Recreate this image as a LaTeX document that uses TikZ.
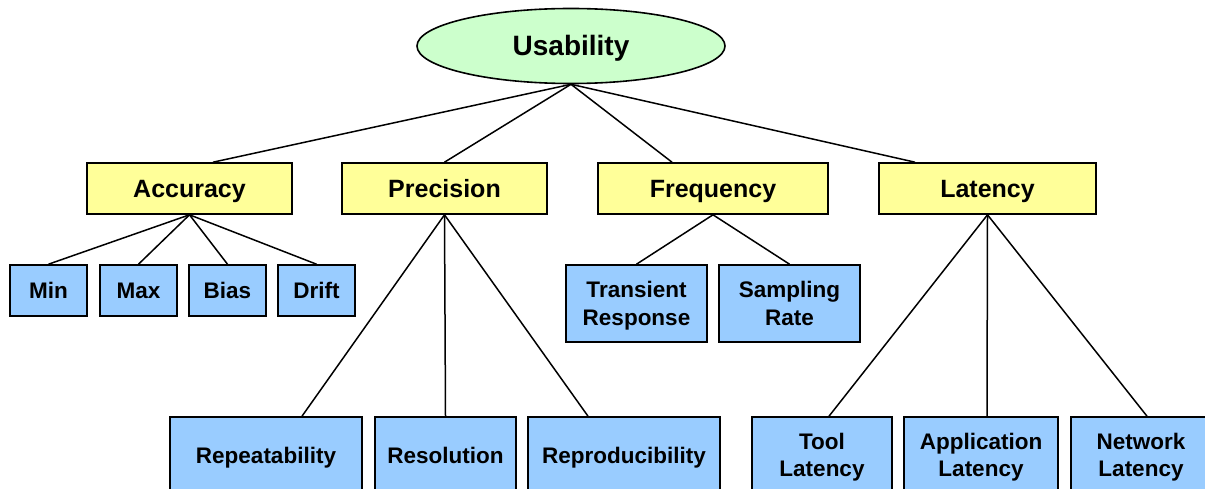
\documentclass[tikz,border=0pt]{standalone}
\usepackage{fontspec}
\setmainfont{Liberation Sans}
\usetikzlibrary{shapes.geometric}
\definecolor{rootfill}{HTML}{CCFFCC}
\definecolor{midfill}{HTML}{FFFF99}
\definecolor{leaffill}{HTML}{99CCFF}
% one text line of a two-line leaf, its caps centred on the line box
\newcommand\lline{\rule[-5.9pt]{0pt}{27.5pt}}
\tikzset{
  rootnode/.style={ellipse, draw=black, line width=1.6pt, fill=rootfill,
    minimum width=308pt, minimum height=75pt, inner sep=0pt,
    text height=20pt, text depth=0pt,
    font=\fontsize{28}{32}\selectfont\bfseries},
  midnode/.style={rectangle, draw=black, line width=1.6pt, fill=midfill,
    minimum height=51pt, inner sep=0pt,
    text height=18pt, text depth=0pt,
    font=\fontsize{25}{28}\selectfont\bfseries},
  leafbox/.style={rectangle, draw=black, line width=1.6pt, fill=leaffill,
    inner sep=0pt, align=center,
    font=\fontsize{22.5}{27.5}\selectfont\bfseries},
  leafnode/.style={leafbox, text height=16pt, text depth=0pt},
  link/.style={draw=black, line width=1.5pt}
}
\begin{document}
\begin{tikzpicture}[x=1pt,y=-1pt]
\useasboundingbox (0,0) rectangle (1205,489);
\begin{scope}
\clip (0,0) rectangle (1205,489);

% root
\node[rootnode] (usab) at (571,46) {Usability};

% second level
\node[midnode, minimum width=205pt] (acc) at (189.5,188.5) {Accuracy};
\node[midnode, minimum width=205pt] (pre) at (444.5,188.5) {Precision};
\node[midnode, minimum width=230pt] (fre) at (713,188.5) {Frequency};
\node[midnode, minimum width=217pt] (lat) at (987.5,188.5) {Latency};

% accuracy leaves
\node[leafnode, minimum width=77pt, minimum height=51pt] (min) at (48.5,290.5) {Min};
\node[leafnode, minimum width=77pt, minimum height=51pt] (max) at (138.5,290.5) {Max};
\node[leafnode, minimum width=77pt, minimum height=51pt] (bias) at (227.5,290.5) {Bias};
\node[leafnode, minimum width=77pt, minimum height=51pt] (drift) at (316.5,290.5) {Drift};

% frequency leaves
\node[leafbox, minimum width=141pt, minimum height=77pt] (trans) at (636.5,303.5) {\lline Transient\\\lline Response};
\node[leafbox, minimum width=141pt, minimum height=77pt] (samp) at (789.5,303.5) {\lline Sampling\\\lline Rate};

% precision leaves
\node[leafnode, minimum width=192pt, minimum height=76pt] (rep) at (266,455) {Repeatability};
\node[leafnode, minimum width=141pt, minimum height=76pt] (res) at (445.5,455) {Resolution};
\node[leafnode, minimum width=192pt, minimum height=76pt] (repro) at (624,455) {Reproducibility};

% latency leaves
\node[leafbox, minimum width=140pt, minimum height=76pt] (tool) at (822,455) {\lline Tool\\\lline Latency};
\node[leafbox, minimum width=154pt, minimum height=76pt] (app) at (981,455) {\lline Application\\\lline Latency};
\node[leafbox, minimum width=140pt, minimum height=76pt] (net) at (1141,455) {\lline Network\\\lline Latency};

% root to second level
\draw[link] (usab.south) -- ([xshift=23.5pt]acc.north);
\draw[link] (usab.south) -- (pre.north);
\draw[link] (usab.south) -- ([xshift=-41pt]fre.north);
\draw[link] (usab.south) -- ([xshift=-72.5pt]lat.north);

% accuracy
\foreach \leaf in {min,max,bias,drift}
  \draw[link] (acc.south) -- (\leaf.north);

% precision
\draw[link] (pre.south) -- ([xshift=36pt]rep.north);
\draw[link] (pre.south) -- (res.north);
\draw[link] (pre.south) -- ([xshift=-36pt]repro.north);

% frequency
\draw[link] (fre.south) -- (trans.north);
\draw[link] (fre.south) -- (samp.north);

% latency
\draw[link] (lat.south) -- ([xshift=7pt]tool.north);
\draw[link] (lat.south) -- ([xshift=6pt]app.north);
\draw[link] (lat.south) -- ([xshift=6pt]net.north);
\end{scope}
\end{tikzpicture}
\end{document}
